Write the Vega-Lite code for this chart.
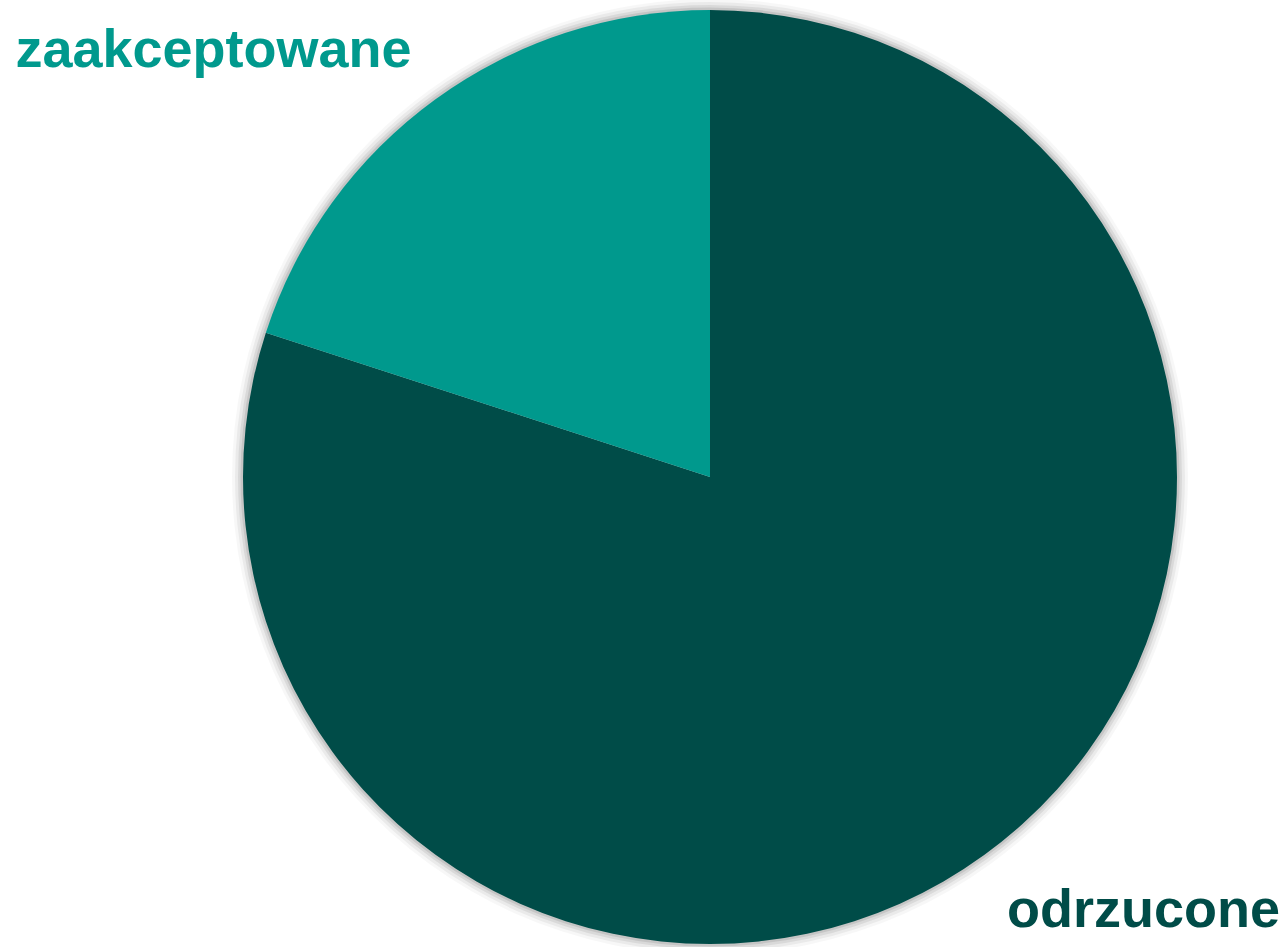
{
  "$schema": "https://vega.github.io/schema/vega-lite/v6.json",
  "width": 934,
  "height": 934,
  "autosize": {"type": "none"},
  "padding": {"left": 243, "top": 10, "right": 109, "bottom": 3},
  "background": "white",
  "view": {"stroke": null},
  "data": {
    "values": [
      {"status": "odrzucone", "value": 80},
      {"status": "zaakceptowane", "value": 20}
    ]
  },
  "encoding": {
    "theta": {"field": "value", "type": "quantitative", "stack": true}
  },
  "layer": [
    {"mark": {"type": "arc", "radius": 478, "color": "#000000", "opacity": 0.03}},
    {"mark": {"type": "arc", "radius": 475, "color": "#000000", "opacity": 0.05}},
    {"mark": {"type": "arc", "radius": 472, "color": "#000000", "opacity": 0.07}},
    {"mark": {"type": "arc", "radius": 469.5, "color": "#000000", "opacity": 0.09}},
    {
      "mark": {"type": "arc", "radius": 467},
      "encoding": {
        "color": {
          "field": "status",
          "type": "nominal",
          "scale": {"domain": ["odrzucone", "zaakceptowane"], "range": ["#004C48", "#00998D"]},
          "legend": null
        }
      }
    },
    {
      "mark": {"type": "text", "radius": 530, "align": "center", "baseline": "alphabetic", "dx": -185, "dy": 19, "fontSize": 54, "fontWeight": "bold", "font": "Liberation Sans"},
      "encoding": {
        "color": {
          "field": "status",
          "type": "nominal",
          "scale": {"domain": ["odrzucone", "zaakceptowane"], "range": ["#004C48", "#00998D"]},
          "legend": null
        },
        "text": {"condition": {"test": "datum.status === 'zaakceptowane'", "field": "status", "type": "nominal"}, "value": ""}
      }
    },
    {
      "mark": {"type": "text", "radius": 530, "align": "center", "baseline": "alphabetic", "dx": 122, "dy": 21, "fontSize": 54, "fontWeight": "bold", "font": "Liberation Sans"},
      "encoding": {
        "color": {
          "field": "status",
          "type": "nominal",
          "scale": {"domain": ["odrzucone", "zaakceptowane"], "range": ["#004C48", "#00998D"]},
          "legend": null
        },
        "text": {"condition": {"test": "datum.status === 'odrzucone'", "field": "status", "type": "nominal"}, "value": ""}
      }
    }
  ]
}
